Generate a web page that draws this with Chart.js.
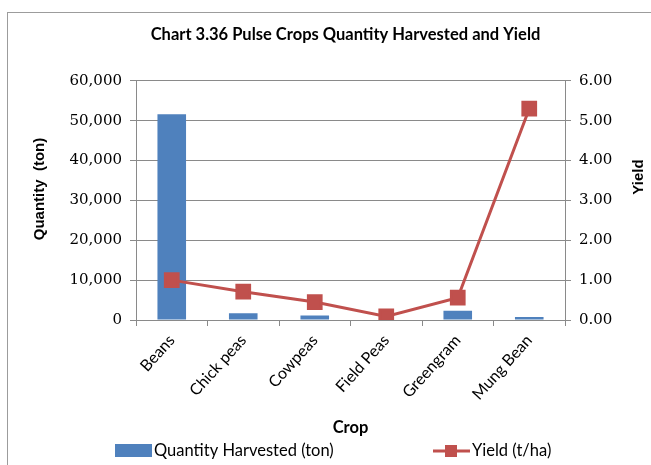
<!DOCTYPE html>
<html>
<head>
<meta charset="utf-8">
<script src="https://cdn.jsdelivr.net/npm/chart.js@4.4.0/dist/chart.umd.min.js"></script>
<style>
  body { margin: 0; background: #fff; }
  #frame { position: absolute; left: 7px; top: 12px; width: 700px; height: 500px; border: 1px solid #9c9c9c; }
  #chart { position: absolute; left: 0; top: 0; }
</style>
</head>
<body>
<div id="frame"></div>
<canvas id="chart" width="651" height="465"></canvas>
<script>
let crops = ["Beans", "Chick peas", "Cowpeas", "Field Peas", "Greengram", "Mung Bean"];
let quantity = [51600, 1700, 1100, 150, 2300, 750];
let yieldValues = [1.0, 0.71, 0.45, 0.09, 0.56, 5.3];
let quantityTicks = [0, 10000, 20000, 30000, 40000, 50000, 60000];
let yieldTicks = [0, 1, 2, 3, 4, 5, 6];

const blue = "#4F81BD";
const red = "#C0504D";
const gridGray = "#8a8a8a";

// axis titles + legend drawn by hand so they sit where the original has them
const extras = {
  id: "extras",
  afterDraw(chart) {
    let ctx = chart.ctx;
    ctx.save();
    ctx.fillStyle = "#000";
    ctx.textBaseline = "middle";
    ctx.textAlign = "center";

    ctx.font = "bold 15px 'Liberation Sans'";
    ctx.save();
    ctx.translate(40, 189);
    ctx.rotate(-Math.PI / 2);
    ctx.fillText("Quantity  (ton)", 0, 0);
    ctx.restore();

    ctx.save();
    ctx.translate(639, 177);
    ctx.rotate(-Math.PI / 2);
    ctx.fillText("Yield", 0, 0);
    ctx.restore();

    // legend
    let bars = chart.data.datasets[0];
    let line = chart.data.datasets[1];
    ctx.textAlign = "left";
    ctx.font = "16.5px Lato";
    ctx.fillStyle = bars.backgroundColor;
    ctx.fillRect(115, 444, 37, 13);
    ctx.fillStyle = "#000";
    ctx.fillText(bars.label, 154, 451);

    ctx.strokeStyle = line.borderColor;
    ctx.lineWidth = 3;
    ctx.beginPath();
    ctx.moveTo(433, 451);
    ctx.lineTo(470, 451);
    ctx.stroke();
    ctx.fillStyle = line.pointBackgroundColor;
    ctx.fillRect(445, 445, 12, 12);
    ctx.fillStyle = "#000";
    ctx.fillText(line.label, 472, 451);
    ctx.restore();
  },
};

let ctx = document.getElementById("chart").getContext("2d");
new Chart(ctx, {
  type: "bar",
  data: {
    labels: crops,
    datasets: [
      {
        label: "Quantity Harvested (ton)",
        data: quantity,
        yAxisID: "y",
        backgroundColor: blue,
        barPercentage: 0.4,
        categoryPercentage: 1.0,
        order: 1,
      },
      {
        type: "line",
        label: "Yield (t/ha)",
        data: yieldValues,
        yAxisID: "y1",
        borderColor: red,
        backgroundColor: red,
        pointBackgroundColor: red,
        pointBorderColor: red,
        borderWidth: 3,
        pointStyle: "rect",
        pointRadius: 9,
        pointHoverRadius: 9,
        tension: 0,
        order: 0,
      },
    ],
  },
  options: {
    responsive: false,
    animation: false,
    layout: { padding: { left: 40, right: 0, top: 0, bottom: 25 } },
    plugins: {
      legend: { display: false },
      tooltip: { enabled: false },
      title: {
        display: true,
        text: "Chart 3.36 Pulse Crops Quantity Harvested and Yield",
        color: "#000",
        font: { family: "Lato", size: 16.5, weight: "bold" },
        padding: { top: 25, bottom: 36 },
      },
    },
    scales: {
      x: {
        grid: { drawOnChartArea: false, drawTicks: true, tickLength: 6, color: gridGray, offset: true },
        border: { display: true, color: gridGray },
        ticks: {
          color: "#000",
          font: { family: "Lato", size: 16 },
          maxRotation: 48,
          minRotation: 48,
          padding: 5,
        },
        title: {
          display: true,
          text: "Crop",
          color: "#000",
          font: { family: "Lato", size: 16.5, weight: "bold" },
          padding: { top: 0, bottom: 2 },
        },
        afterFit(scale) {
          scale.height = 120;
        },
      },
      y: {
        position: "left",
        min: 0,
        max: 60000,
        afterBuildTicks(scale) {
          scale.ticks = quantityTicks.map((v) => ({ value: v }));
        },
        grid: { color: gridGray, tickLength: 6 },
        border: { display: true, color: gridGray },
        ticks: {
          color: "#000",
          font: { family: "DejaVu Serif", size: 15 },
          padding: 8,
          callback: (v) => v.toLocaleString("en-US"),
        },
        afterFit(scale) {
          scale.width = 96;
        },
      },
      y1: {
        position: "right",
        min: 0,
        max: 6,
        afterBuildTicks(scale) {
          scale.ticks = yieldTicks.map((v) => ({ value: v }));
        },
        grid: { drawOnChartArea: false, color: gridGray, tickLength: 6 },
        border: { display: true, color: gridGray },
        ticks: {
          color: "#000",
          font: { family: "DejaVu Serif", size: 15 },
          padding: 8,
          callback: (v) => v.toFixed(2),
        },
        afterFit(scale) {
          scale.width = 86;
        },
      },
    },
  },
  plugins: [extras],
});
</script>
</body>
</html>
